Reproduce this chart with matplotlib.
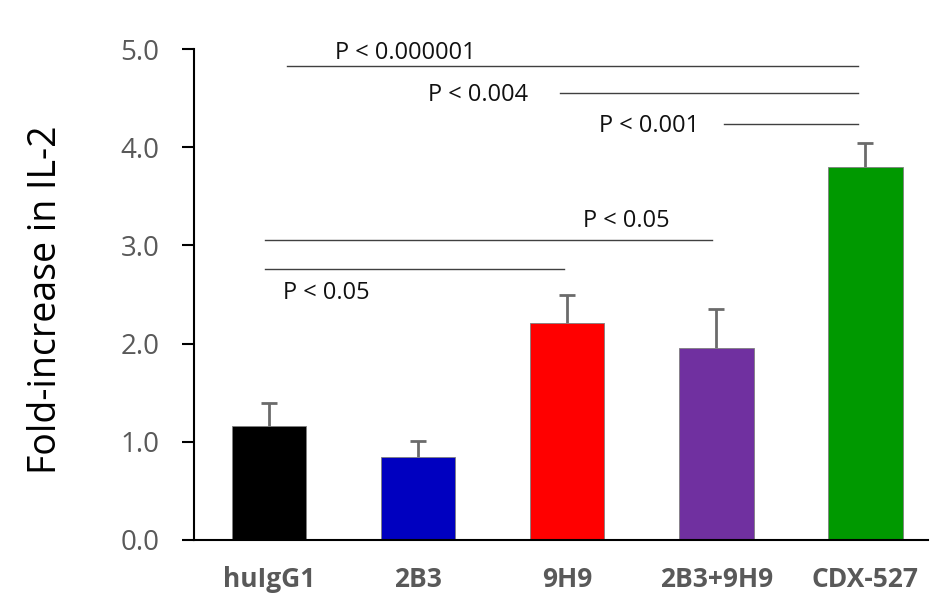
import matplotlib
matplotlib.use("Agg")
import matplotlib.pyplot as plt
import numpy as np

categories = ["huIgG1", "2B3", "9H9", "2B3+9H9", "CDX-527"]
means = [1.16, 0.845, 2.21, 1.955, 3.80]
err_up = [0.235, 0.165, 0.29, 0.395, 0.24]
colors = ["#000000", "#0000C0", "#FF0000", "#7030A0", "#009900"]
yticks = [0.0, 1.0, 2.0, 3.0, 4.0, 5.0]

# significance lines: (x_start, x_end, y)
sig_lines = [
    (0.12, 3.95, 4.83),
    (1.95, 3.95, 4.55),
    (3.05, 3.95, 4.24),
    (-0.03, 2.97, 3.055),
    (-0.03, 1.98, 2.76),
]
# significance labels: (text, x, y)
sig_labels = [
    ("P < 0.000001", 0.443, 4.99),
    ("P < 0.004", 1.067, 4.56),
    ("P < 0.001", 2.215, 4.246),
    ("P < 0.05", 2.107, 3.28),
    ("P < 0.05", 0.094, 2.546),
]

plt.rcParams['font.family'] = ['Open Sans', 'DejaVu Sans']

fig = plt.figure(figsize=(9.30, 6.14), dpi=100)
ax = fig.add_axes([194/930, 1 - 540/614, (928-194)/930, (540-49)/614])

x = np.arange(len(categories))
ax.bar(x, means, width=0.5, color=colors, edgecolor="#7f7f7f", linewidth=0.6, zorder=2)
eb = ax.errorbar(x, means, yerr=[np.zeros(len(means)), err_up], fmt="none",
                 ecolor="#6b6b6b", elinewidth=2, capsize=6, capthick=2, zorder=1)
# hide the lower caps (only the upper half of the error bar is shown)
eb[1][0].set_visible(False)

for (x0, x1, y) in sig_lines:
    ax.plot([x0, x1], [y, y], color="#404040", lw=1.0, clip_on=False)
for (t, tx, ty) in sig_labels:
    ax.text(tx, ty, t, fontsize=17, color="#111111", ha="left", va="center_baseline")

ax.set_xlim(-0.503, 4.42)
ax.set_ylim(0, 5.0)
ax.set_yticks(yticks)
ax.set_yticklabels([f"{v:.1f}" for v in yticks], fontsize=20, color="#595959")
ax.set_xticks(x)
ax.set_xticklabels(categories, fontsize=19, fontweight="bold", color="#595959")
ax.tick_params(axis="x", length=0, pad=19)
ax.tick_params(axis="y", length=9, width=1.5, direction="out", pad=16)
for s in ["top", "right"]:
    ax.spines[s].set_visible(False)
ax.spines["left"].set_linewidth(1.5)
ax.spines["bottom"].set_linewidth(1.5)
ax.set_ylabel("Fold-increase in IL-2", fontsize=27, color="#000000")
ax.yaxis.set_label_coords((65 - 194) / 734, 0.49)

fig.savefig("out.png", dpi=100)
